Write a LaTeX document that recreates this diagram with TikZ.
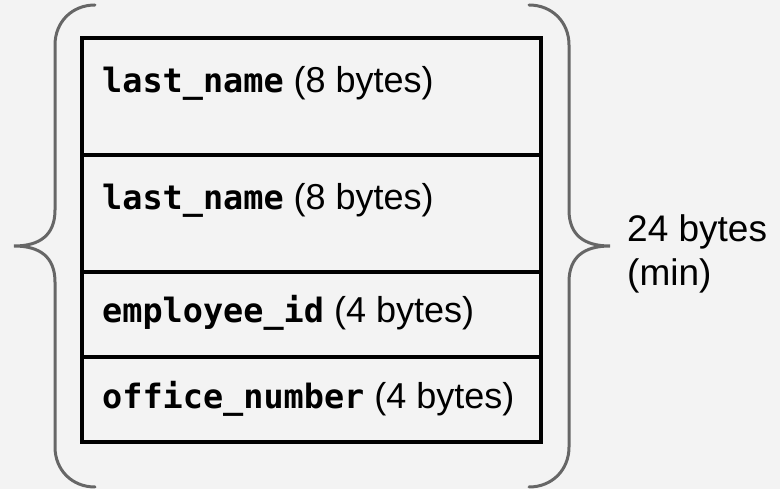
\documentclass[tikz,border=0pt]{standalone}
\usepackage{fontspec}
\setmainfont{Liberation Sans}
\newfontfamily\codefont{DejaVu Sans Mono}
\usetikzlibrary{positioning}
\definecolor{bggray}{HTML}{F3F3F3}
\definecolor{bracegray}{HTML}{666666}
\newcommand{\fieldname}[1]{{\codefont\bfseries\fontsize{33.5}{40}\selectfont #1}}
\tikzset{field/.style={draw,line width=4pt,minimum width=459pt,outer sep=0pt,inner sep=0pt},
         tallrow/.style={field,minimum height=117pt},
         shortrow/.style={field,minimum height=85pt},
         fieldtext/.style={anchor=base west,inner sep=0pt,font=\fontsize{36}{40}\selectfont},
         brace/.style={draw=bracegray,line width=3pt,line cap=round},
         }

\begin{document}
\begin{tikzpicture}[x=1pt,y=-1pt]
\useasboundingbox[fill=bggray] (0,0) rectangle (780,489);

% struct fields
\node[tallrow,anchor=north west] (lname1) at (82,38) {};
\node[tallrow,below=0pt of lname1] (lname2) {};
\node[shortrow,below=0pt of lname2] (empid) {};
\node[shortrow,below=0pt of empid] (office) {};

\node[fieldtext] (t1) at ([shift={(20,55)}]lname1.north west) {\fieldname{last\_name} (8 bytes)};
\node[fieldtext] (t2) at ([shift={(20,55)}]lname2.north west) {\fieldname{last\_name} (8 bytes)};
\node[fieldtext] (t3) at ([shift={(20,51)}]empid.north west) {\fieldname{employee\_id} (4 bytes)};
\node[fieldtext] (t4) at ([shift={(20,51)}]office.north west) {\fieldname{office\_number} (4 bytes)};

% braces
\coordinate (ltip) at (14,246);
\coordinate (rtip) at (610,246);
\draw[brace] (95,5) .. controls (72,5) and (55,22) .. (55,45) -- (55,210)
  .. controls (55,235) and (40,246) .. (ltip)
  .. controls (40,246) and (55,257) .. (55,282) -- (55,447)
  .. controls (55,470) and (72,487) .. (95,487);
\draw[brace] (529,5) .. controls (552,5) and (569,22) .. (569,45) -- (569,210)
  .. controls (569,235) and (584,246) .. (rtip)
  .. controls (584,246) and (569,257) .. (569,282) -- (569,447)
  .. controls (569,470) and (552,487) .. (529,487);

\node[right=17pt of rtip,yshift=-8pt,inner sep=0pt,align=left,font=\fontsize{37}{44}\selectfont] (total) {24 bytes\\(min)};
\end{tikzpicture}
\end{document}
